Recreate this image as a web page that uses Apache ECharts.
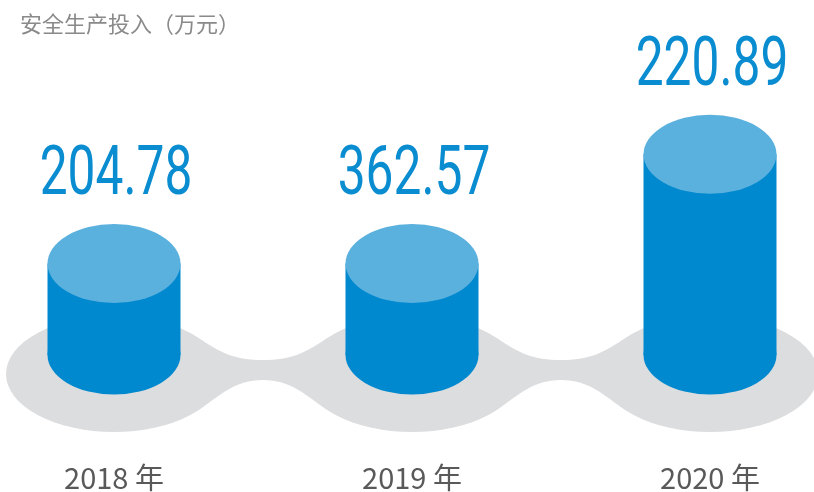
<!DOCTYPE html>
<html>
<head>
<meta charset="utf-8">
<script src="https://cdn.jsdelivr.net/npm/echarts@6/dist/echarts.min.js"></script>
<style>
  html, body { margin: 0; padding: 0; background: #fff; }
  #main { width: 814px; height: 492px; }
</style>
</head>
<body>
<div id="main"></div>
<script>
// 年份
var years = ['2018 年', '2019 年', '2020 年'];
// 安全生产投入（万元），作为标签显示
var values = ['204.78', '362.57', '220.89'];
// 图中柱体的显示高度（原图并未按数值比例绘制）
var displayHeights = [92, 92, 202];

var myChart = echarts.init(document.getElementById('main'));

var RX = 66.5, RY = 39.5;          // 柱体椭圆
var SRX = 108, SRY = 58, SDY = 19; // 底部灰色阴影

function ellipse(cx, cy, rx, ry, color) {
    return {
        type: 'circle',
        x: cx, y: cy, scaleY: ry / rx,
        shape: { cx: 0, cy: 0, r: rx },
        style: { fill: color }
    };
}

function renderShadow(params, api) {
    var i = params.dataIndex;
    var p = api.coord([i, 0]);
    var cy = p[1] + SDY;
    var children = [ellipse(p[0], cy, SRX, SRY, '#dcdddf')];
    if (i < years.length - 1) {
        var q = api.coord([i + 1, 0]);
        var x1 = p[0], x2 = q[0], mx = (x1 + x2) / 2;
        var dy = 36, dx = SRX * Math.sqrt(1 - (dy / SRY) * (dy / SRY));
        var tTop = cy - 14, tBot = cy + 6;
        var d = [
            'M', x1, cy,
            'L', x1 + dx, cy - dy,
            'C', x1 + dx + 22, cy - dy + 15, mx - 28, tTop, mx, tTop,
            'C', mx + 28, tTop, x2 - dx - 22, cy - dy + 15, x2 - dx, cy - dy,
            'L', x2, cy,
            'L', x2 - dx, cy + dy,
            'C', x2 - dx - 22, cy + dy - 15, mx + 28, tBot, mx, tBot,
            'C', mx - 28, tBot, x1 + dx + 22, cy + dy - 15, x1 + dx, cy + dy,
            'Z'
        ].join(' ');
        children.unshift({
            type: 'path',
            shape: { pathData: d },
            style: { fill: '#dcdddf' }
        });
    }
    return { type: 'group', children: children };
}

function renderCylinder(params, api) {
    var i = params.dataIndex;
    var base = api.coord([i, 0]);
    var top = api.coord([i, api.value(1)]);
    var cx = base[0];
    return {
        type: 'group',
        children: [
            ellipse(cx, base[1], RX, RY, '#0089cf'),
            {
                type: 'rect',
                shape: { x: cx - RX, y: top[1], width: RX * 2, height: base[1] - top[1] },
                style: { fill: '#0089cf' }
            },
            ellipse(cx, top[1], RX, RY, '#5bb1dd'),
            {
                type: 'text',
                x: cx + 2, y: top[1] - RY - 47,
                scaleX: 0.73,
                style: {
                    text: values[i],
                    fill: '#0a8cd0',
                    fontSize: 68,
                    fontWeight: 'normal',
                    fontFamily: 'Roboto, sans-serif',
                    align: 'center',
                    verticalAlign: 'middle'
                }
            }
        ]
    };
}

var option = {
    animation: false,
    title: {
        text: '安全生产投入（万元）',
        left: 15,
        top: 8,
        textStyle: {
            color: '#8a8a8a',
            fontSize: 22,
            fontWeight: 'normal',
            fontFamily: '"Noto Sans CJK SC", sans-serif'
        }
    },
    grid: { left: 114, right: 104, top: 57, bottom: 135 },
    xAxis: {
        type: 'category',
        data: years,
        boundaryGap: false,
        axisLine: { show: false },
        axisTick: { show: false },
        axisLabel: {
            margin: 108,
            fontSize: 29,
            color: '#595959',
            fontFamily: '"Noto Sans CJK SC", sans-serif'
        }
    },
    yAxis: {
        type: 'value',
        min: 0,
        max: 300,
        show: false,
        splitLine: { show: false }
    },
    series: [
        {
            type: 'custom',
            renderItem: renderShadow,
            data: years.map(function (y, i) { return [i, 0]; })
        },
        {
            type: 'custom',
            renderItem: renderCylinder,
            data: displayHeights.map(function (h, i) { return [i, h]; })
        }
    ]
};

myChart.setOption(option);
</script>
</body>
</html>
